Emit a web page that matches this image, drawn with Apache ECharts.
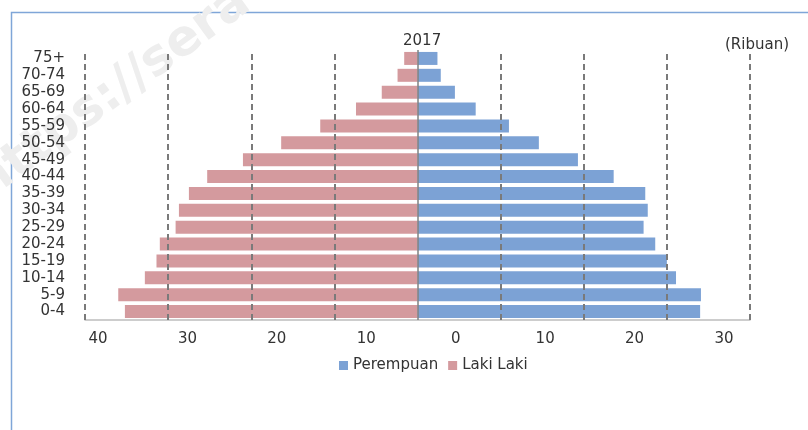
<!DOCTYPE html>
<html>
<head>
<meta charset="utf-8">
<script src="https://cdn.jsdelivr.net/npm/echarts@6/dist/echarts.min.js"></script>
<style>html,body{margin:0;padding:0;background:#fff}#c{width:808px;height:430px}</style>
</head>
<body>
<div id="c"></div>
<script>
var categories = ['0-4','5-9','10-14','15-19','20-24','25-29','30-34','35-39','40-44','45-49','50-54','55-59','60-64','65-69','70-74','75+'];
var perempuan = [34.0, 34.1, 31.1, 30.0, 28.6, 27.2, 27.7, 27.4, 23.6, 19.3, 14.6, 11.0, 7.0, 4.5, 2.8, 2.4];
var lakiLaki = [35.2, 36.0, 32.8, 31.4, 31.0, 29.1, 28.7, 27.5, 25.3, 21.0, 16.4, 11.7, 7.4, 4.3, 2.4, 1.6];
var gridTicks = [-40, -30, -20, -10, 10, 20, 30, 40];
var labelTicks = [-40, 30];

var FONT = 'DejaVu Sans';
var chart = echarts.init(document.getElementById('c'), null, {renderer: 'canvas'});
chart.setOption({
  animation: false,
  backgroundColor: '#fff',
  textStyle: {fontFamily: FONT},
  title: {
    text: '2017', left: 398, top: 29,
    textStyle: {fontFamily: FONT, fontSize: 15, fontWeight: 'normal', color: '#333'}
  },
  legend: {
    left: 334, top: 353,
    itemWidth: 9, itemHeight: 9, itemGap: 10,
    icon: 'rect',
    textStyle: {fontFamily: FONT, fontSize: 15, color: '#333', padding: [0, 0, 0, 0]},
    data: ['Perempuan', 'Laki Laki']
  },
  graphic: [
    {type: 'rect', z: -10, silent: true, shape: {x: 11.5, y: 12.5, width: 820, height: 440},
     style: {fill: 'none', stroke: '#7fa6d8', lineWidth: 1.5}},
    {type: 'text', z: -5, silent: true, x: -20, y: 190, rotation: 36 * Math.PI / 180,
     style: {text: 'https://sera', fontFamily: FONT, fontSize: 50, fontWeight: 'bold',
             fill: '#eeeeee', textVerticalAlign: 'middle'}},
    {type: 'text', x: 725, y: 45, style: {text: '(Ribuan)', fontFamily: FONT, fontSize: 15,
             fill: '#333', textVerticalAlign: 'middle'}}
  ],
  grid: [
    {left: 85, right: 58, top: 50, bottom: 110},
    {left: 98, right: 84, top: 50, bottom: 110}
  ],
  xAxis: [
    {type: 'value', gridIndex: 0, min: -40, max: 40, interval: 10,
     axisLabel: {show: false}, axisTick: {show: false}, splitLine: {show: false},
     axisLine: {show: true, onZero: false, lineStyle: {color: '#bdbdbd', width: 1.5}}},
    {type: 'value', gridIndex: 1, min: labelTicks[0], max: labelTicks[1], interval: 10,
     axisLine: {show: false}, axisTick: {show: false}, splitLine: {show: false},
     axisLabel: {margin: 12, fontFamily: FONT, fontSize: 15, color: '#333',
                 formatter: function (v) { return String(Math.abs(v)); }}}
  ],
  yAxis: [
    {type: 'category', gridIndex: 0, data: categories,
     axisLine: {show: false}, axisTick: {show: false},
     axisLabel: {interval: 0, margin: 20, fontFamily: FONT, fontSize: 15, color: '#333'}},
    {type: 'value', gridIndex: 1, show: false}
  ],
  series: [
    {name: 'Perempuan', type: 'bar', xAxisIndex: 0, yAxisIndex: 0, barWidth: 13, barGap: '-100%',
     itemStyle: {color: '#7ca2d5'}, data: perempuan},
    {name: 'Laki Laki', type: 'bar', xAxisIndex: 0, yAxisIndex: 0, barWidth: 13, barGap: '-100%',
     itemStyle: {color: '#d49a9e'},
     data: lakiLaki.map(function (v) { return -v; }),
     markLine: {
       silent: true, symbol: 'none', label: {show: false}, animation: false,
       lineStyle: {color: '#7a7a7a', type: [6, 4], width: 2},
       data: gridTicks.map(function (t) { return {xAxis: t}; }).concat([
         {xAxis: 0, lineStyle: {type: 'solid', width: 1.5, color: '#808080'}}
       ])
     }}
  ]
});
</script>
</body>
</html>
